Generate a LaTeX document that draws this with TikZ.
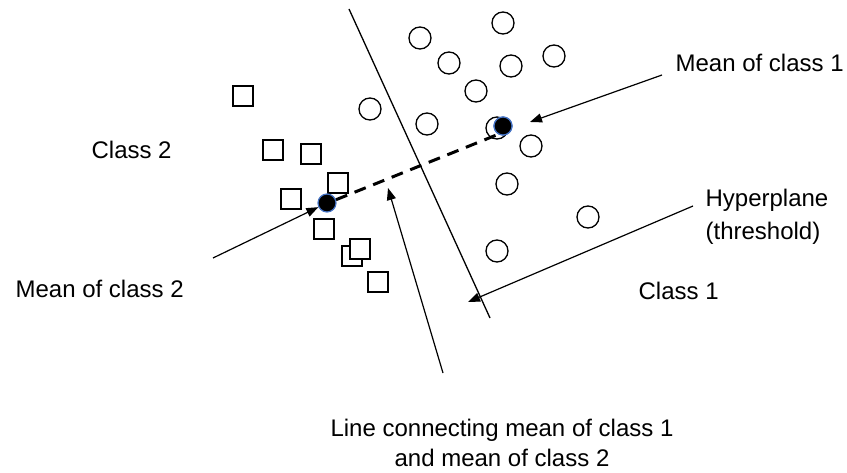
\documentclass[tikz,border=0pt]{standalone}
\usepackage{fontspec}
\setmainfont{Liberation Sans}
\usetikzlibrary{arrows.meta}
\definecolor{meanblue}{RGB}{68,114,196}
\tikzset{
	class one/.style={circle,draw,line width=1.3pt,minimum size=22pt,inner sep=0pt},
	class two/.style={rectangle,draw,line width=1.3pt,minimum size=20pt,inner sep=0pt,fill=white},
	mean node/.style={circle,fill=black,draw=meanblue,line width=1.2pt,minimum size=18pt,inner sep=0pt},
	text node/.style={font=\fontsize{24}{33}\selectfont,inner sep=0pt}
}

\begin{document}
\begin{tikzpicture}[x=1pt,y=-1pt,->,>={Triangle[length=12pt,width=9pt]},line width=1.2pt]
	\useasboundingbox (0,0) rectangle (847,473);
	% class 1 (circles)
	\foreach \i/\px/\py in {1/503/23,2/420/38,3/554/56,4/449/63,5/511/66,6/476/91,7/370/109,
		8/427/124,9/497/128,10/531/146,11/507/184,12/588/217,13/497/251}
		\node [class one] (c\i) at (\px,\py) {};
	% class 2 (squares)
	\foreach \i/\px/\py in {1/243/96,2/273/150,3/311/154,4/338/183,5/291/199,6/324/229,
		7/352/256,8/360/249,9/378/282}
		\node [class two] (s\i) at (\px,\py) {};
	% hyperplane
	\coordinate (hp top) at (349,9);
	\coordinate (hp bot) at (490,318);
	\draw [-,line width=1.3pt] (hp top) -- (hp bot);
	% means
	\node [mean node] (m1) at (503,126) {};
	\node [mean node] (m2) at (327,203) {};
	\draw [-,line width=3pt,dash pattern=on 12pt off 8pt] (m2.20) -- (m1.-120);
	\node [mean node] at (503,126) {};
	% labels
	\node [text node,anchor=base west] (lm1) at (675,72) {Mean of class 1};
	\node [text node,anchor=base west] (lc2) at (91,159) {Class 2};
	\node [text node,anchor=base west,align=left] (lhp) at (705,240) {Hyperplane\\(threshold)};
	\node [text node,anchor=base west] (lm2) at (15,298) {Mean of class 2};
	\node [text node,anchor=base west] (lc1) at (638,300) {Class 1};
	\node [text node,align=center,anchor=base,font=\fontsize{24}{30}\selectfont] (lline) at (502,466) {Line connecting mean of class 1\\and mean of class 2};
	% arrows
	\coordinate (a1) at (662,75);
	\coordinate (a2) at (213,258);
	\coordinate (a3) at (693,206);
	\coordinate (a3 tip) at (468,302);
	\coordinate (a4) at (443,373);
	\coordinate (a4 tip) at (388,188);
	\draw (a1) -- (530,122);
	\draw (a2) -- (m2);
	\draw (a3) -- (a3 tip);
	\draw (a4) -- (a4 tip);
\end{tikzpicture}
\end{document}
